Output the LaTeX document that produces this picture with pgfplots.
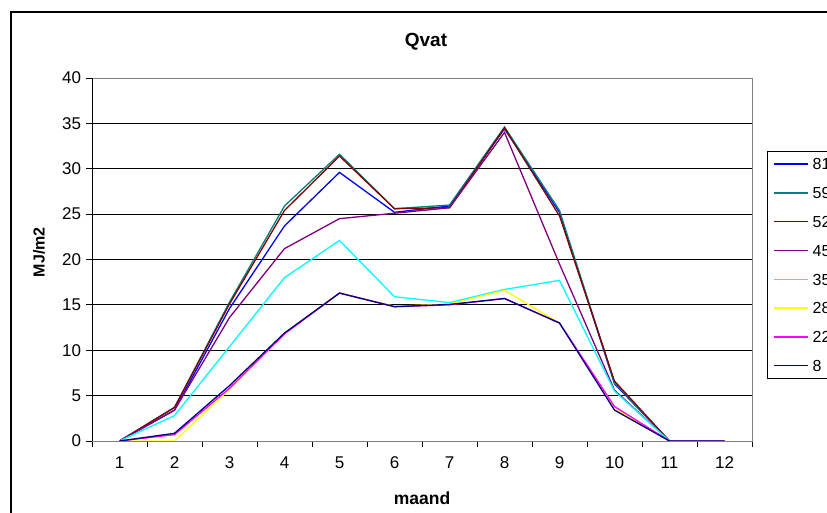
\documentclass[border=0pt]{standalone}
\usepackage{fontspec}
\setmainfont{Liberation Sans}
\usepackage{pgfplots}
\pgfplotsset{compat=1.18}

% series colours
\definecolor{c81}{RGB}{0,0,255}
\definecolor{c59}{RGB}{0,128,128}
\definecolor{c52}{RGB}{128,0,0}
\definecolor{c45}{RGB}{128,0,128}
\definecolor{c35}{RGB}{0,255,255}
\definecolor{c28}{RGB}{255,255,0}
\definecolor{c22}{RGB}{255,0,255}
\definecolor{c8}{RGB}{0,0,128}
\definecolor{framegray}{RGB}{128,128,128}

\begin{document}
\begin{tikzpicture}[x=1pt,y=1pt]
\useasboundingbox (0,0) rectangle (827,513);
\clip (0,0) rectangle (827,513);
\fill[white] (0,0) rectangle (827,513);
% chart frame
\draw[black, line width=1.4pt] (11,-10) -- (11,501) -- (840,501);
\begin{axis}[
  at={(92pt,72pt)}, anchor=south west,
  scale only axis, width=660pt, height=363pt,
  xmin=0.5, xmax=12.5, ymin=0, ymax=40,
  xtick={1,...,12},
  major x tick style={draw=none},
  minor xtick={0.5,1.5,...,12.5},
  ytick={0,5,...,40},
  tick align=outside,
  xtick pos=left, ytick pos=left,
  major tick length=6pt, minor tick length=6pt,
  tick style={black, line width=0.8pt},
  ymajorgrids,
  grid style={black, line width=0.8pt},
  axis line style={framegray, line width=0.9pt},
  /pgf/number format/assume math mode=true,
  ticklabel style={font=\fontsize{17}{20}\selectfont},
  yticklabel style={xshift=-1.5pt},
  xticklabel style={yshift=-6pt},
  title={\bfseries Qvat},
  title style={at={(axis description cs:0.506,1.069)}, anchor=base, font=\fontsize{19}{22}\selectfont},
  xlabel={\bfseries maand},
  xlabel style={at={(axis description cs:0.5,-0.1736)}, anchor=base, font=\fontsize{17.5}{20}\selectfont},
  ylabel={\bfseries MJ/m2},
  ylabel style={at={(axis description cs:-0.0803,0.52)}, anchor=center, rotate=0, font=\fontsize{16}{19}\selectfont},
  legend image code/.code={\draw[#1, line width=1.3pt] (0pt,0pt) -- (34pt,0pt);},
  legend style={
    at={(axis description cs:1.0227,0.799)}, anchor=north west,
    draw=black, line width=0.8pt,
    font=\fontsize{16}{19}\selectfont,
    inner xsep=6pt, inner ysep=7pt,
    row sep=17.3pt, column sep=4pt,
    nodes={inner sep=0pt, text height=11.5pt, text depth=0pt},
    cells={anchor=west},
  },
  legend cell align=left,
  every axis plot/.append style={line width=1.3pt},
]
\addplot[c81] coordinates {(1,0) (2,3.4) (3,14.6) (4,23.7) (5,29.6) (6,25.2) (7,25.9) (8,34.4) (9,25.2) (10,6.3) (11,0) (12,0)};
\addlegendentry{81}
\addplot[c59] coordinates {(1,0) (2,3.7) (3,15.3) (4,25.9) (5,31.6) (6,25.6) (7,26.0) (8,34.6) (9,25.4) (10,6.4) (11,0) (12,0)};
\addlegendentry{59}
\addplot[c52] coordinates {(1,0) (2,3.7) (3,15.1) (4,25.4) (5,31.4) (6,25.6) (7,25.7) (8,34.5) (9,24.8) (10,6.6) (11,0) (12,0)};
\addlegendentry{52}
\addplot[c45] coordinates {(1,0) (2,3.4) (3,13.6) (4,21.2) (5,24.5) (6,25.1) (7,25.7) (8,34.0) (9,19.5) (10,5.6) (11,0) (12,0)};
\addlegendentry{45}
\addplot[c35] coordinates {(1,0) (2,2.8) (3,10.4) (4,18.0) (5,22.1) (6,15.9) (7,15.25) (8,16.7) (9,17.7) (10,5.5) (11,0) (12,0)};
\addlegendentry{35}
\addplot[c28] coordinates {(1,0) (2,0) (3,5.7) (4,11.9) (5,16.3) (6,14.85) (7,15.1) (8,16.6) (9,13.0) (10,3.6) (11,0) (12,0)};
\addlegendentry{28}
\addplot[c22] coordinates {(1,0) (2,0.7) (3,5.8) (4,11.8) (5,16.3) (6,14.8) (7,15.0) (8,15.7) (9,13.0) (10,3.8) (11,0) (12,0)};
\addlegendentry{22}
\addplot[c8] coordinates {(1,0) (2,0.85) (3,6.1) (4,11.9) (5,16.3) (6,14.8) (7,15.05) (8,15.7) (9,13.0) (10,3.4) (11,0) (12,0)};
\addlegendentry{8}
% black value axis and category axis
\draw[black, line width=0.9pt] (rel axis cs:0,1) -- (rel axis cs:0,0) -- (rel axis cs:1,0);
\end{axis}
\end{tikzpicture}
\end{document}
